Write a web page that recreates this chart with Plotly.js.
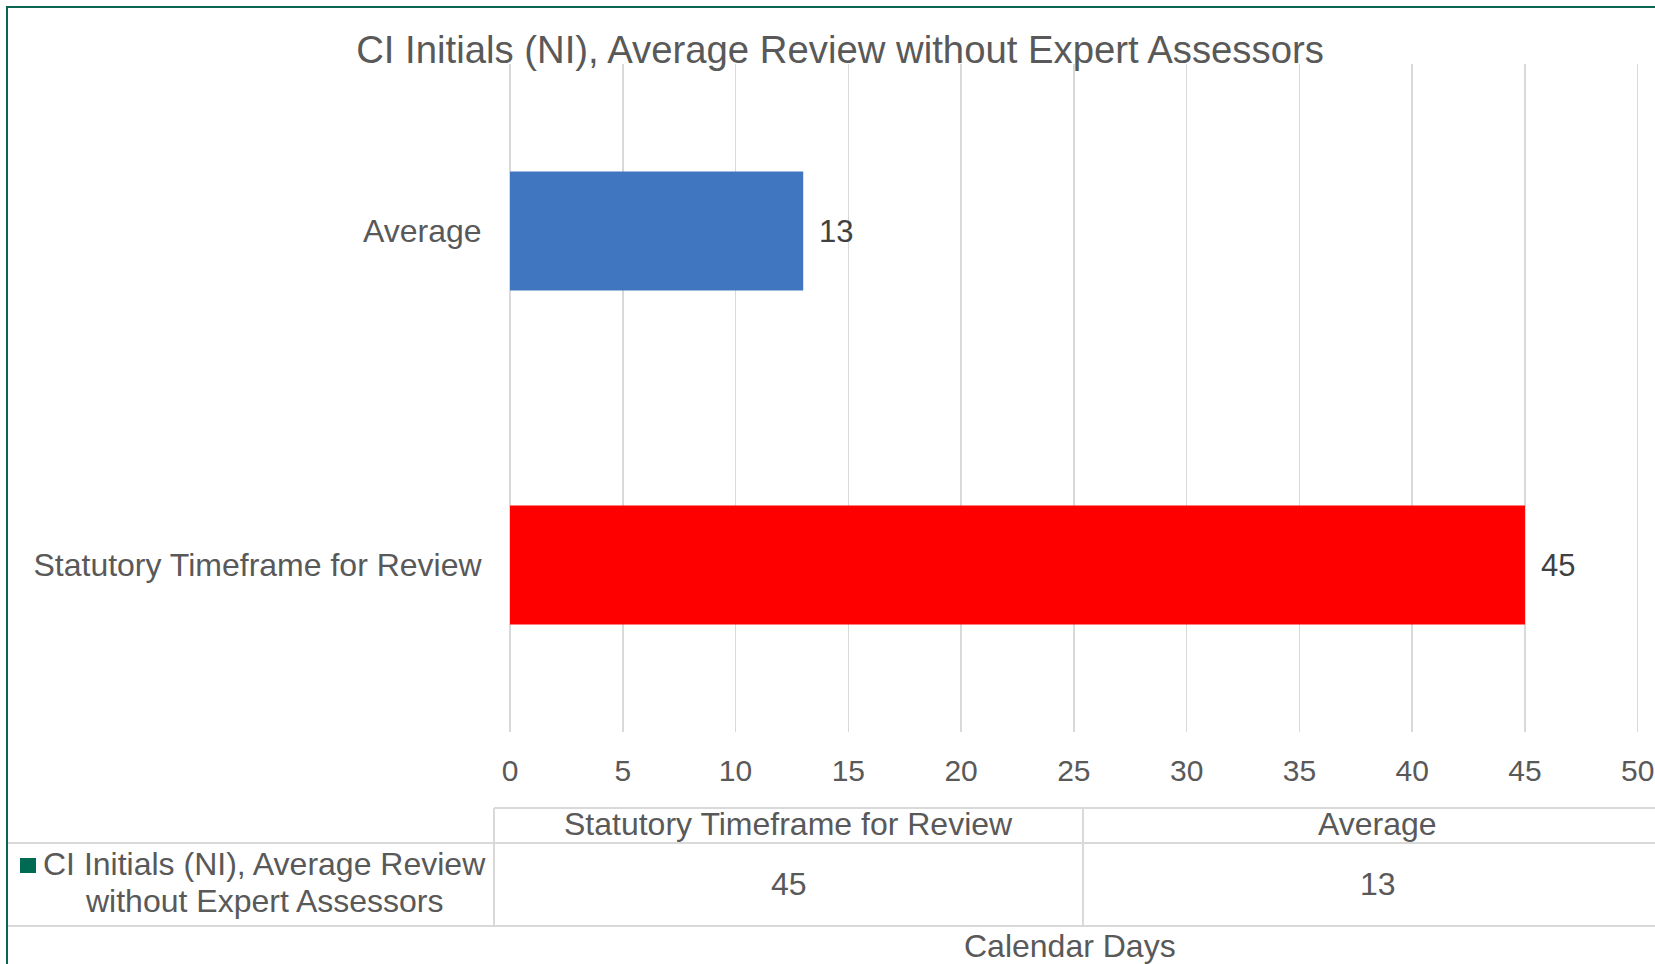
<!DOCTYPE html>
<html>
<head>
<meta charset="utf-8">
<script src="https://cdn.plot.ly/plotly-3.0.1.min.js"></script>
<style>html,body{margin:0;padding:0;background:#fff;}#chart{width:1655px;height:964px;}</style>
</head>
<body>
<div id="chart"></div>
<script>
// ---- data ----
const categories = ["Statutory Timeframe for Review", "Average"];
const values = [45, 13];
const seriesName = "CI Initials (NI), Average Review without Expert Assessors";
const legendLines = ["CI Initials (NI), Average Review", "without Expert Assessors"];
const xTicks = [0, 5, 10, 15, 20, 25, 30, 35, 40, 45, 50];
const chartTitle = "CI Initials (NI), Average Review without Expert Assessors";
const axisTitle = "Calendar Days";

// ---- styles ----
const barColors = ["#FF0000", "#3F76BF"];
const textColor = "#595959";
const gridColor = "#D9D9D9";
const FONT = "Liberation Sans, Arial, sans-serif";
const W = 1655, H = 964;
const PL = 510, PR = 1640, PT = 64, PB = 732;
const px = X => (X - PL) / (PR - PL);
const py = Y => (PB - Y) / (PB - PT);

const trace = {
  type: "bar",
  orientation: "h",
  y: categories,
  x: values,
  name: seriesName,
  marker: {color: barColors},
  hoverinfo: "x+y",
  showlegend: false
};

const annotations = [];
// data labels
categories.forEach((c, i) => {
  annotations.push({
    x: values[i], y: c, xref: "x", yref: "y",
    text: String(values[i]), showarrow: false,
    xanchor: "left", yanchor: "middle", xshift: 14,
    font: {family: FONT, size: 31, color: "#404040"}
  });
});
// data table: column headers and values
const colLeft = 494, colW = 589;
categories.forEach((c, i) => {
  const cx = colLeft + colW * (i + 0.5);
  annotations.push({
    x: px(cx), y: py(824), xref: "paper", yref: "paper",
    text: c, showarrow: false, xanchor: "center", yanchor: "middle",
    font: {family: FONT, size: 32, color: textColor}
  });
  annotations.push({
    x: px(cx), y: py(884), xref: "paper", yref: "paper",
    text: String(values[i]), showarrow: false, xanchor: "center", yanchor: "middle",
    font: {family: FONT, size: 32, color: textColor}
  });
});
// legend key text
annotations.push({
  x: px(264), y: py(864), xref: "paper", yref: "paper",
  text: legendLines[0], showarrow: false, xanchor: "center", yanchor: "middle",
  font: {family: FONT, size: 32, color: textColor}
});
annotations.push({
  x: px(264), y: py(901), xref: "paper", yref: "paper",
  text: legendLines[1], showarrow: false, xanchor: "center", yanchor: "middle",
  font: {family: FONT, size: 32, color: textColor}
});
// axis title
annotations.push({
  x: px(1070), y: py(946), xref: "paper", yref: "paper",
  text: axisTitle, showarrow: false, xanchor: "center", yanchor: "middle",
  font: {family: FONT, size: 32, color: textColor}
});

const line = (x0, y0, x1, y1, color, width) => ({
  type: "line", xref: "paper", yref: "paper",
  x0: px(x0), y0: py(y0), x1: px(x1), y1: py(y1),
  line: {color: color, width: width}
});
const shapes = [
  // table grid
  line(494, 808, 1700, 808, gridColor, 2),
  line(8, 843, 1700, 843, gridColor, 2),
  line(8, 926, 1700, 926, gridColor, 2),
  line(494, 808, 494, 926, gridColor, 2),
  line(1083, 808, 1083, 926, gridColor, 2),
  // legend key
  {type: "rect", xref: "paper", yref: "paper",
   x0: px(20), x1: px(36), y0: py(858), y1: py(873),
   fillcolor: "#006B52", line: {width: 0}},
  // chart border
  {type: "rect", xref: "paper", yref: "paper",
   x0: px(7), x1: px(1700), y0: py(7), y1: py(1000),
   fillcolor: "rgba(0,0,0,0)", line: {color: "#0B6651", width: 2}}
];

const layout = {
  width: W, height: H,
  margin: {l: PL, r: W - PR, t: PT, b: H - PB, pad: 0},
  paper_bgcolor: "#FFFFFF",
  plot_bgcolor: "#FFFFFF",
  font: {family: FONT, color: textColor},
  title: {
    text: chartTitle, x: 840 / W, xref: "container", xanchor: "center",
    y: 1 - 50 / H, yref: "container", yanchor: "middle",
    font: {family: FONT, size: 38.3, color: textColor}
  },
  bargap: 0.644,
  xaxis: {
    range: [0, 50.1], tickvals: xTicks, ticktext: xTicks.map(String),
    showgrid: true, gridcolor: gridColor, gridwidth: 1.5,
    zeroline: true, zerolinecolor: gridColor, zerolinewidth: 1.5,
    showline: false, ticks: "outside", ticklen: 12, tickcolor: "rgba(0,0,0,0)",
    tickfont: {family: FONT, size: 30, color: textColor}, fixedrange: true
  },
  yaxis: {
    type: "category", categoryorder: "array", categoryarray: categories,
    showgrid: false, zeroline: false, showline: false,
    ticks: "outside", ticklen: 21, tickcolor: "rgba(0,0,0,0)",
    tickfont: {family: FONT, size: 32, color: textColor}, fixedrange: true
  },
  annotations: annotations,
  shapes: shapes,
  showlegend: false
};

Plotly.newPlot("chart", [trace], layout, {displayModeBar: false, staticPlot: true});
</script>
</body>
</html>
